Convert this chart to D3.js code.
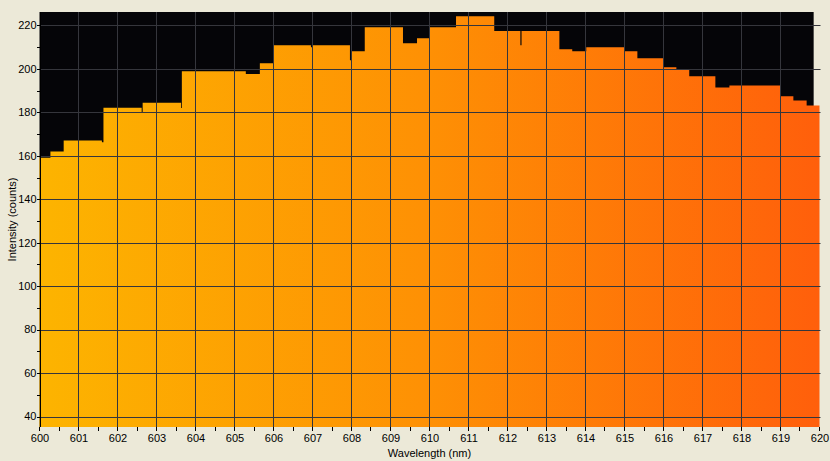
<!DOCTYPE html>
<html>
<head>
<meta charset="utf-8">
<script src="https://cdn.jsdelivr.net/npm/d3@7"></script>
<style>
  html, body { margin: 0; padding: 0; background: #ECE9D8; }
  svg { display: block; }
  text { font-family: "Liberation Sans", Arial, sans-serif; font-size: 11px; fill: #000; }
</style>
</head>
<body>
<svg id="chart" width="830" height="461"></svg>
<script>
// Step starts (nm) and intensity (counts)
const wavelengths = [600.00, 600.28, 600.62, 601.60, 601.64, 602.62, 602.645, 603.63, 603.65, 605.29,
  605.65, 606.00, 606.96, 607.00, 607.96, 608.00, 608.34, 609.32, 609.68, 610.00,
  610.68, 611.66, 612.33, 612.36, 613.33, 613.66, 614.02, 614.99, 615.33, 616.00,
  616.33, 616.66, 617.33, 617.69, 619.00, 619.33, 619.67, 620.00];
const intensities = [159.1, 162.0, 167.1, 166.2, 182.1, 180.2, 184.4, 182.0, 198.9, 197.7,
  202.6, 210.9, 210.0, 210.9, 204.0, 208.1, 219.2, 211.8, 214.1, 219.2,
  224.3, 217.4, 210.9, 217.4, 209.1, 208.1, 210.0, 208.1, 204.9, 200.8,
  199.8, 196.6, 191.5, 192.4, 187.4, 185.5, 183.2, 183.2];
const xTicks = d3.range(600, 621, 1);
const xMinorTicks = d3.range(600.5, 620, 1);
const yTicks = d3.range(40, 221, 20);
const yMinorTicks = d3.range(50, 221, 20);
const xTitle = "Wavelength (nm)";
const yTitle = "Intensity (counts)";
const xDomain = [600, 620];
const yDomain = [35.17, 226.2];

const data = wavelengths.map((w, i) => ({ w, v: intensities[i] }));

const svg = d3.select("#chart");
const pLeft = 39.5, pRight = 819.5, pTop = 12, pBottom = 427;
const x = d3.scaleLinear().domain(xDomain).range([pLeft, pRight]);
const y = d3.scaleLinear().domain(yDomain).range([pBottom, pTop]);

const defs = svg.append("defs");
const grad = defs.append("linearGradient").attr("id", "fillGrad")
  .attr("gradientUnits", "userSpaceOnUse")
  .attr("x1", x(600)).attr("x2", x(620)).attr("y1", 0).attr("y2", 0);
grad.append("stop").attr("offset", "0%").attr("stop-color", "#FDB400");
grad.append("stop").attr("offset", "50%").attr("stop-color", "#FE9004");
grad.append("stop").attr("offset", "100%").attr("stop-color", "#FF5F0B");

// black plot background (stops a bit before right end, like reference)
svg.append("rect")
  .attr("x", x(600)).attr("y", pTop)
  .attr("width", x(619.85) - x(600)).attr("height", pBottom - pTop)
  .attr("fill", "#050508");

// area
const area = d3.area()
  .x(d => x(d.w))
  .y0(y(yDomain[0]))
  .y1(d => y(d.v))
  .curve(d3.curveStepAfter);
svg.append("path").datum(data).attr("d", area).attr("fill", "url(#fillGrad)");

// grid lines
const grid = svg.append("g").attr("stroke", "#35363C").attr("stroke-width", 1);
grid.selectAll("line.h").data(yTicks).enter().append("line")
  .attr("x1", x(600)).attr("x2", x(620) + 1)
  .attr("y1", d => Math.round(y(d)) + 0.5).attr("y2", d => Math.round(y(d)) + 0.5);
grid.selectAll("line.v").data(xTicks.filter(t => t > 600 && t < 620)).enter().append("line")
  .attr("x1", d => Math.floor(x(d)) + 0.5).attr("x2", d => Math.floor(x(d)) + 0.5)
  .attr("y1", pTop).attr("y2", pBottom);

// Y axis line
svg.append("line").attr("x1", 40.5).attr("x2", 40.5).attr("y1", pTop).attr("y2", pBottom)
  .attr("stroke", "#000").attr("stroke-width", 1);

// Y ticks
const yt = svg.append("g").attr("stroke", "#000").attr("stroke-width", 1);
yt.selectAll("line.maj").data(yTicks).enter().append("line")
  .attr("x1", 37).attr("x2", 40)
  .attr("y1", d => Math.round(y(d)) + 0.5).attr("y2", d => Math.round(y(d)) + 0.5);
yt.selectAll("line.min").data(yMinorTicks).enter().append("line")
  .attr("x1", 37).attr("x2", 40)
  .attr("y1", d => Math.round(y(d)) + 0.5).attr("y2", d => Math.round(y(d)) + 0.5);
svg.append("g").selectAll("text").data(yTicks).enter().append("text")
  .attr("x", 36.5).attr("y", d => y(d)).attr("dy", "0.35em")
  .attr("text-anchor", "end").text(d => d);

// X ticks
const xt = svg.append("g").attr("stroke", "#000").attr("stroke-width", 1);
xt.selectAll("line.maj").data(xTicks).enter().append("line")
  .attr("x1", d => Math.floor(x(d)) + 0.5).attr("x2", d => Math.floor(x(d)) + 0.5)
  .attr("y1", pBottom).attr("y2", pBottom + 4);
xt.selectAll("line.min").data(xMinorTicks).enter().append("line")
  .attr("x1", d => Math.floor(x(d)) + 0.5).attr("x2", d => Math.floor(x(d)) + 0.5)
  .attr("y1", pBottom).attr("y2", pBottom + 4);
svg.append("g").selectAll("text").data(xTicks).enter().append("text")
  .attr("x", d => x(d) + 0.5).attr("y", 442)
  .attr("text-anchor", "middle").text(d => d);

// titles
svg.append("text").attr("x", (x(600) + x(620)) / 2).attr("y", 456.5)
  .attr("text-anchor", "middle").text(xTitle);
svg.append("text").attr("transform", `translate(15.5, ${(pTop + pBottom) / 2}) rotate(-90)`)
  .attr("text-anchor", "middle").text(yTitle);
</script>
</body>
</html>
